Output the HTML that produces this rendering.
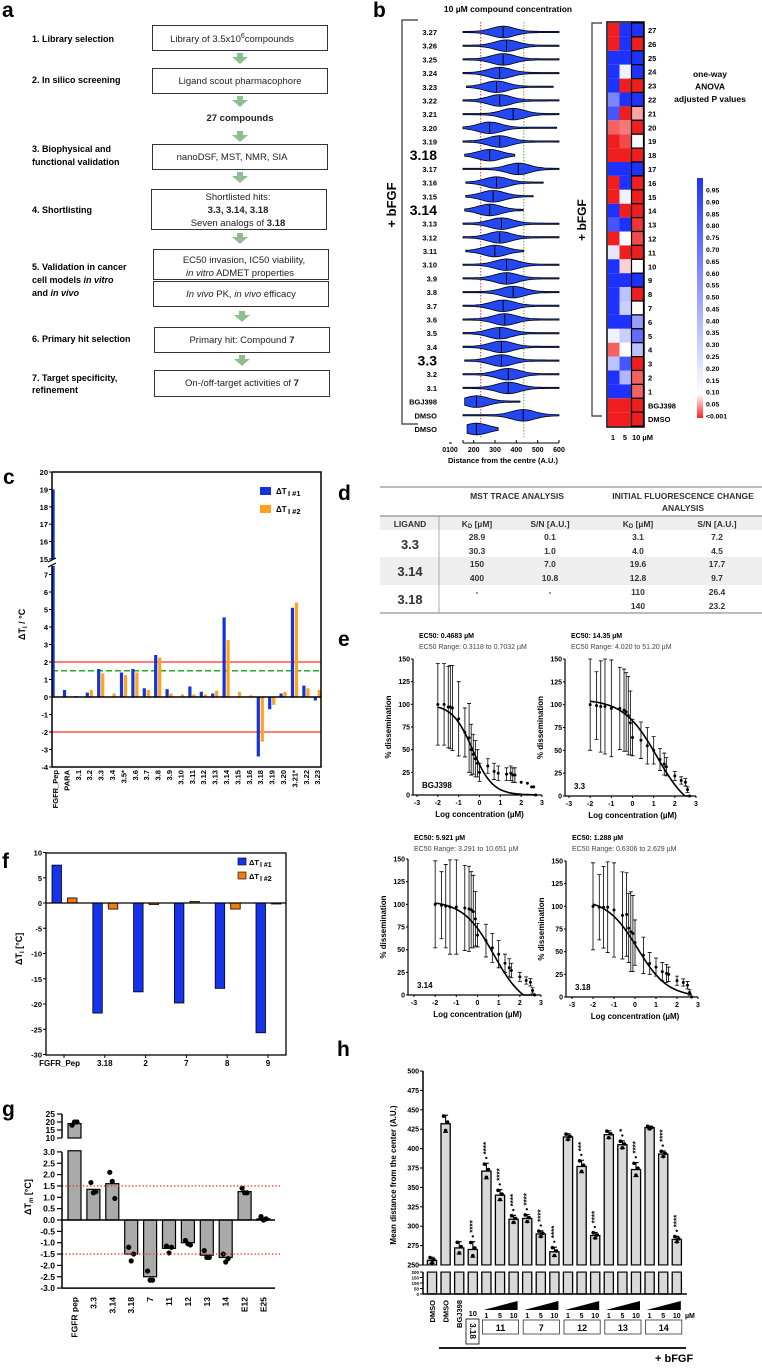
<!DOCTYPE html>
<html><head><meta charset="utf-8">
<style>
html,body{margin:0;padding:0;background:#fff;}
svg{display:block;font-family:"Liberation Sans",Arial,sans-serif;}
.b{font-weight:bold;}
</style></head>
<body>
<svg id="fig" xmlns="http://www.w3.org/2000/svg" width="762" height="1369" viewBox="0 0 762 1369">
<rect width="762" height="1369" fill="#fff"/>
<text x="2" y="17" font-size="21" class="b">a</text>
<text x="373" y="17" font-size="21" class="b">b</text>
<text x="3" y="484" font-size="21" class="b">c</text>
<text x="338" y="500" font-size="21" class="b">d</text>
<text x="338" y="646" font-size="21" class="b">e</text>
<text x="2" y="868" font-size="21" class="b">f</text>
<text x="2" y="1116" font-size="21" class="b">g</text>
<text x="337" y="1056" font-size="21" class="b">h</text>

<g font-size="9">
<g class="b">
<text x="32" y="42">1. Library selection</text>
<text x="32" y="83">2. In silico screening</text>
<text x="32" y="152">3. Biophysical and</text>
<text x="32" y="165">functional validation</text>
<text x="32" y="213">4. Shortlisting</text>
<text x="32" y="270">5. Validation in cancer</text>
<text x="32" y="283">cell models <tspan font-style="italic">in vitro</tspan></text>
<text x="32" y="296">and <tspan font-style="italic">in vivo</tspan></text>
<text x="32" y="342">6. Primary hit selection</text>
<text x="32" y="381">7. Target specificity,</text>
<text x="32" y="393">refinement</text>
</g>
<g fill="none" stroke="#333" stroke-width="1">
<rect x="152.5" y="25.5" width="175" height="25"/>
<rect x="152.5" y="68.5" width="175" height="25"/>
<rect x="152.5" y="144.5" width="175" height="25"/>
<rect x="151.5" y="189.5" width="175" height="40"/>
<rect x="153.5" y="249.5" width="175" height="30"/>
<rect x="153.5" y="281.5" width="175" height="25"/>
<rect x="154.5" y="327.5" width="175" height="25"/>
<rect x="154.5" y="370.5" width="175" height="26"/>
</g>
<g font-size="9.5" text-anchor="middle" fill="#222">
<text x="232" y="42">Library of 3.5x10<tspan dy="-4" font-size="7">6</tspan><tspan dy="4">compounds</tspan></text>
<text x="240" y="84">Ligand scout pharmacophore</text>
<text x="240" y="121" class="b">27 compounds</text>
<text x="232" y="160">nanoDSF, MST, NMR, SIA</text>
<text x="238" y="200">Shortlisted hits:</text>
<text x="238" y="213" class="b">3.3, 3.14, 3.18</text>
<text x="238" y="226">Seven analogs of <tspan class="b">3.18</tspan></text>
<text x="244" y="263">EC50 invasion, IC50 viability,</text>
<text x="240" y="276"><tspan font-style="italic">in vitro</tspan> ADMET properties</text>
<text x="241" y="297"><tspan font-style="italic">In vivo</tspan> PK, <tspan font-style="italic">in vivo</tspan> efficacy</text>
<text x="242" y="343">Primary hit: Compound <tspan class="b">7</tspan></text>
<text x="242" y="386">On-/off-target activities of <tspan class="b">7</tspan></text>
</g>
<g fill="#8fbf8f">
<path d="M237 53h6v4h5l-8 7l-8-7h5z"/>
<path d="M237 96h6v4h5l-8 7l-8-7h5z"/>
<path d="M237 131h6v4h5l-8 7l-8-7h5z"/>
<path d="M237 172h6v4h5l-8 7l-8-7h5z"/>
<path d="M237 233h6v4h5l-8 7l-8-7h5z"/>
<path d="M239 311h6v4h5l-8 7l-8-7h5z"/>
<path d="M239 355h6v4h5l-8 7l-8-7h5z"/>
</g>
</g>

<g font-size="8.5">
<rect x="380" y="516" width="382" height="14" fill="#eee"/>
<rect x="380" y="557" width="382" height="28" fill="#eee"/>
<line x1="380" y1="487" x2="762" y2="487" stroke="#777" stroke-width="1"/>
<line x1="380" y1="516" x2="762" y2="516" stroke="#777" stroke-width="1"/>
<line x1="380" y1="613" x2="762" y2="613" stroke="#777" stroke-width="1"/>
<line x1="439" y1="516" x2="439" y2="613" stroke="#999" stroke-width="0.8"/>
<g class="b" text-anchor="middle" fill="#333">
<text x="517" y="499">MST TRACE ANALYSIS</text>
<text x="683" y="499">INITIAL FLUORESCENCE CHANGE</text>
<text x="683" y="511">ANALYSIS</text>
<text x="410" y="527">LIGAND</text>
<text x="477" y="527">K<tspan font-size="6" dy="1">D</tspan><tspan dy="-1"> [µM]</tspan></text>
<text x="550" y="527">S/N [A.U.]</text>
<text x="638" y="527">K<tspan font-size="6" dy="1">D</tspan><tspan dy="-1"> [µM]</tspan></text>
<text x="717" y="527">S/N [A.U.]</text>
<text x="410" y="549" font-size="13">3.3</text>
<text x="410" y="576" font-size="13">3.14</text>
<text x="410" y="604" font-size="13">3.18</text>
<text x="477" y="540">28.9</text><text x="550" y="540">0.1</text><text x="638" y="540">3.1</text><text x="717" y="540">7.2</text>
<text x="477" y="554">30.3</text><text x="550" y="554">1.0</text><text x="638" y="554">4.0</text><text x="717" y="554">4.5</text>
<text x="477" y="567">150</text><text x="550" y="567">7.0</text><text x="638" y="567">19.6</text><text x="717" y="567">17.7</text>
<text x="477" y="581">400</text><text x="550" y="581">10.8</text><text x="638" y="581">12.8</text><text x="717" y="581">9.7</text>
<text x="477" y="595">-</text><text x="550" y="595">-</text><text x="638" y="595">110</text><text x="717" y="595">26.4</text>
<text x="638" y="609">140</text><text x="717" y="609">23.2</text>
</g>
</g>
</svg>
<script>
const NS="http://www.w3.org/2000/svg";
const S=document.getElementById('fig');
function mk(tag,attrs,parent){const e=document.createElementNS(NS,tag);for(const k in attrs)e.setAttribute(k,attrs[k]);(parent||S).appendChild(e);return e;}
function tx(str,x,y,size,extra,parent){const e=mk('text',Object.assign({x:x,y:y,'font-size':size},extra||{}),parent);e.textContent=str;return e;}

const bLabels=["3.27","3.26","3.25","3.24","3.23","3.22","3.21","3.20","3.19","3.18","3.17","3.16","3.15","3.14","3.13","3.12","3.11","3.10","3.9","3.8","3.7","3.6","3.5","3.4","3.3","3.2","3.1","BGJ398","DMSO","DMSO"];
const bMin=[150,150,150,150,166,150,150,150,150,158,150,163,163,158,150,150,163,150,150,150,150,150,150,150,158,150,150,158,150,169];
const bMax=[600,600,600,600,573,600,600,589,600,393,600,526,479,432,600,600,435,600,600,600,600,600,600,600,600,600,600,417,600,315];
const bCenter=[338,354,338,322,307,322,385,275,322,275,409,307,291,275,330,322,299,354,354,385,338,346,322,330,330,362,362,213,432,213];
const hmLabels=["27","26","25","24","23","22","21","20","19","18","17","16","15","14","13","12","11","10","9","8","7","6","5","4","3","2","1","BGJ398","DMSO"];
const hm1=[0,0,1,1,1,0.6,0.8,0.03,0,0,1,0,0,1,0.8,0,0.2,1,1,1,1,1,0.15,0.03,0.35,1,1,0,0];
const hm5=[1,1,1,0.15,0,1,0,0.04,0.02,0,1,1,0.15,0,1,0.1,0,0.08,1,0.35,0.3,1,0.3,0.1,0.8,0.4,1,0,0];
const hm10=[1,0,1,1,0,1,0.06,0,0.12,0,1,0,0,0,0.01,0.02,0,0.1,1,0,0.1,0.5,0.7,0.35,0,0.03,0.03,0,0];
const cbTicks=["0.95","0.90","0.85","0.80","0.75","0.70","0.65","0.60","0.55","0.50","0.45","0.40","0.35","0.30","0.25","0.20","0.15","0.10","0.05","<0.001"];

(function(){
 const g=mk('g',{});
 
 
 const xv=v=>463+(v-150)*96/450;
 const rowY=i=>32+i*(397/29);
 tx("10 µM compound concentration",508,12,8.5,{'text-anchor':'middle','class':'b'},g);
 const red=mk('line',{x1:xv(233),x2:xv(233),y1:22,y2:437,stroke:'#e33',"stroke-width":1,"stroke-dasharray":"1.5,1.5"},g);
 
 
 const grn=mk('line',{x1:xv(435),x2:xv(435),y1:22,y2:437,stroke:'#6a3',"stroke-width":1,"stroke-dasharray":"1.5,1.5"},g);
 
 
 bLabels.forEach((lab,i)=>{
  const y=rowY(i);
  const big=(lab==="3.18"||lab==="3.14"||lab==="3.3");
  const t=tx(lab,437,y+(big?5:3),big?14:7.5,{'text-anchor':'end','class':'b'},g);
  
  
  const l=mk('line',{x1:xv(bMin[i]),x2:xv(bMax[i]),y1:y,y2:y,stroke:'#000','stroke-width':1.2},g);
  
  
  let top=[],bot=[];
  for(let k=0;k<=40;k++){const v=bMin[i]+(bMax[i]-bMin[i])*k/40;const h=0.6+5.2*Math.exp(-Math.pow((v-bCenter[i])/75,2));top.push(xv(v).toFixed(1)+','+(y-h).toFixed(1));bot.unshift(xv(v).toFixed(1)+','+(y+h).toFixed(1));}
  const p=mk('polygon',{points:top.concat(bot).join(' '),fill:'#2347f0',stroke:'#000','stroke-width':0.8},g);
  
  
  const m=mk('line',{x1:xv(bCenter[i]),x2:xv(bCenter[i]),y1:y-5,y2:y+5,stroke:'#000','stroke-width':1},g);
  
  
 });
 mk('path',{d:'M418 20H402V424H418',fill:'none',stroke:'#333','stroke-width':1.2},g);
 tx("+ bFGF",396,205,13,{'class':'b','text-anchor':'middle',transform:'rotate(-90 396 205)'},g);
 const ax=mk('g',{},g);
 
 
 mk('line',{x1:449,x2:452,y1:443,y2:443,stroke:'#000'},ax);
 mk('line',{x1:463,x2:559,y1:443,y2:443,stroke:'#000'},ax);
 [150,200,300,400,500,600].forEach(v=>mk('line',{x1:xv(v),x2:xv(v),y1:440,y2:443,stroke:'#000'},ax));
 const ticks=["200","300","400","500","600"];const tv=[200,300,400,500,600];
 tx("0100",450,452,7,{'text-anchor':'middle','class':'b'},ax);
 ticks.forEach((s,k)=>tx(s,xv(tv[k]),452,7,{'text-anchor':'middle','class':'b'},ax));
 tx("Distance from the centre (A.U.)",503,463,7.5,{'text-anchor':'middle','class':'b'},ax);

 const hg=mk('g',{});
 
 
 function col(p){let r,gg,b;if(p>=0.1){const t=Math.min(1,(p-0.1)/0.85);r=255-225*t;gg=255-205*t;b=255;}else{const t=p/0.1;r=240+15*t;gg=30+225*t;b=30+225*t;}return `rgb(${r|0},${gg|0},${b|0})`;}
 const cols=[hm1,hm5,hm10];const cx=[608,619.5,631.5];const cw=[11.5,12,12];
 hmLabels.forEach((lab,i)=>{
  const y=23+i*13.9;
  cols.forEach((arr,c)=>{
   const r=mk('rect',{x:cx[c],y:y,width:cw[c],height:13.9,fill:col(arr[i]),stroke:c===2?'#000':'none','stroke-width':1.2},hg);
   
   
  });
  const t=tx(lab,648,y+10,7.5,{'class':'b'},hg);
  
  
 });
 mk('rect',{x:607,y:22,width:37,height:405,fill:'none',stroke:'#000','stroke-width':1.5},hg);
 ["1","5","10 µM"].forEach((s,k)=>tx(s,[613,625,632][k],440,7.5,{'class':'b','text-anchor':k<2?'middle':'start'},hg));
 mk('path',{d:'M602 23H592V416H602',fill:'none',stroke:'#333','stroke-width':1.2},hg);
 tx("+ bFGF",586,220,12,{'class':'b','text-anchor':'middle',transform:'rotate(-90 586 220)'},hg);
 ["one-way","ANOVA","adjusted P values"].forEach((s,k)=>tx(s,710,77+k*12.5,8.5,{'text-anchor':'middle','class':'b'},hg));
 const cb=mk('g',{},hg);
 
 
 const defs=mk('defs',{},cb);const lg=mk('linearGradient',{id:'cbg',x1:0,y1:0,x2:0,y2:1},defs);
 mk('stop',{offset:'0',"stop-color":'#1e32ff'},lg);mk('stop',{offset:'0.9',"stop-color":'#fff'},lg);mk('stop',{offset:'1',"stop-color":'#f22'},lg);
 mk('rect',{x:697,y:178,width:6,height:240,fill:'url(#cbg)'},cb);
 cbTicks.forEach((s,k)=>{const y=190+k*(226/19);tx(s,706,y+2.5,6.8,{'class':'b'},cb);});
})();

const cCats=["FGFR_Pep","PARA","3.1","3.2","3.3","3.4","3.5*","3.6","3.7","3.8","3.9","3.10","3.11","3.12","3.13","3.14","3.15","3.16","3.18","3.19","3.20","3.21*","3.22","3.23"];
const cRun1=[19,0.4,0.05,0.25,1.6,0,1.4,1.6,0.5,2.4,0.45,0,0.6,0.3,0.2,4.55,0,0,-3.4,-0.7,0.2,5.1,0.65,-0.2];
const cRun2=[0,0,0,0.4,1.35,0.2,1.25,1.4,0.4,2.25,0.2,0.15,0.15,0.15,0.35,3.25,0.3,0.1,-2.55,-0.45,0.3,5.4,0.5,0.4];
const cLowTicks=["-4","-3","-2","-1","0","1","2","3","4","5","6","7"];
const cUpTicks=["15","16","17","18","19","20"];
(function(){
 const g=mk('g',{});
 
 
 const X0=52,X1=321;
 const yl=v=>697-v*17.5; const yu=v=>472+(20-v)*17.4;
 const cx=i=>55+i*11.4;
 const l1=mk('line',{x1:X0,x2:X1,y1:yl(2),y2:yl(2),stroke:'#f32',"stroke-width":1.3},g);
 
 const l2=mk('line',{x1:X0,x2:X1,y1:yl(-2),y2:yl(-2),stroke:'#f32',"stroke-width":1.3},g);
 
 const l3=mk('line',{x1:X0,x2:X1,y1:yl(1.5),y2:yl(1.5),stroke:'#2a2',"stroke-width":1.5,"stroke-dasharray":"6,3"},g);
 
 cCats.forEach((c,i)=>{
  [[cRun1,'#1533d6',-3.5,'bar-run1'],[cRun2,'#ffa21f',0.5,'bar-run2']].forEach(([arr,color,off,nm])=>{
   const v=arr[i]; if(v===0) return;
   if(v>7.5){
    const a=mk('rect',{x:cx(i)+off,y:yl(7.5),width:3.2,height:yl(0)-yl(7.5),fill:color},g);
    
    const b=mk('rect',{x:cx(i)+off,y:yu(v),width:3.2,height:yu(15)-yu(v),fill:color},g);
    
   } else {
    const r=mk('rect',{x:cx(i)+off,y:Math.min(yl(0),yl(v)),width:3.2,height:Math.abs(yl(v)-yl(0)),fill:color},g);
    
   }
  });
  const t=tx(c,cx(i)+3,770,7.5,{'class':'b','text-anchor':'end',transform:`rotate(-90 ${cx(i)+3} 770)`},g);
  
 });
 mk('path',{d:`M${X0} 472H${X1}V767H${X0}V566`,fill:'none',stroke:'#000','stroke-width':1.5},g);
 mk('line',{x1:X0,x2:X0,y1:472,y2:559,stroke:'#000','stroke-width':1.5},g);
 mk('path',{d:'M48 562l8-4M48 567l8-4',stroke:'#000','stroke-width':1.2},g);
 mk('line',{x1:X0,x2:X1,y1:697,y2:697,stroke:'#000','stroke-width':1.5},g);
 cLowTicks.forEach(s=>{const y=yl(+s);mk('line',{x1:X0-3,x2:X0,y1:y,y2:y,stroke:'#000'},g);tx(s,X0-4,y+3,7.5,{'class':'b','text-anchor':'end'},g);});
 cUpTicks.forEach(s=>{const y=yu(+s);mk('line',{x1:X0-3,x2:X0,y1:y,y2:y,stroke:'#000'},g);tx(s,X0-4,y+3,7.5,{'class':'b','text-anchor':'end'},g);});
 const yt=tx("ΔT",25,640,9,{'class':'b',transform:'rotate(-90 25 640)'},g);
 const sub=mk('tspan',{'font-size':6,dy:2},yt);sub.textContent="I";const s2=mk('tspan',{dy:-2},yt);s2.textContent=" / °C";
 
 const lg=mk('g',{},g);
 mk('rect',{x:260,y:487,width:11,height:8,fill:'#1533d6'},lg);mk('rect',{x:260,y:505,width:11,height:8,fill:'#ffa21f'},lg);
 tx("ΔT",276,494,8,{'class':'b'},lg);tx("I #1",288,496,7.5,{'class':'b'},lg);
 tx("ΔT",276,512,8,{'class':'b'},lg);tx("I #2",288,514,7.5,{'class':'b'},lg);
})();

const eBgjX=[-2,-1.7,-1.5,-1.4,-1.3,-1,-0.7,-0.5,-0.4,-0.3,-0.2,-0.1,0,0.4,0.7,0.9,1.3,1.5,1.6,1.7,2,2.3,2.5,2.6,2.7];
const eBgjY=[100,100,97,97,96,84,69,63,50,45,40,35,25,32,26,24,23,24,22,22,14,13,9,9,0];
const eBgjE=[45,45,45,46,47,41,27,38,28,22,20,15,10,8,9,8,7,8,8,8,0,0,0,0,0];
const e33X=[-2,-1.7,-1.5,-1.3,-1,-0.6,-0.4,-0.3,-0.2,-0.1,0,0.4,0.7,1,1.3,1.5,1.6,2,2.3,2.5,2.6,2.7];
const e33Y=[100,99,98,98,96,96,94,92,88,80,64,61,55,50,40,35,32,22,17,15,7,0];
const e33E=[50,37,50,52,53,45,45,43,43,35,20,20,20,15,12,12,10,5,4,4,3,0];
const e314X=[-2,-1.7,-1.5,-1.3,-1,-0.6,-0.4,-0.3,-0.2,-0.1,0,0.4,0.7,1,1.3,1.5,1.6,2,2.3,2.5,2.6,2.7];
const e314Y=[100,99,98,97,97,96,95,94,92,84,66,60,52,45,35,30,27,20,16,14,5,0];
const e314E=[48,37,46,52,52,47,47,42,40,30,13,18,16,15,10,10,8,5,4,4,3,0];
const e318X=[-2,-1.7,-1.5,-1.3,-1,-0.6,-0.4,-0.3,-0.2,-0.1,0,0.4,0.7,1,1.3,1.5,1.6,2,2.3,2.5,2.6,2.7];
const e318Y=[100,99,99,99,96,90,91,76,72,70,60,46,37,33,28,26,25,18,16,13,5,0];
const e318E=[48,36,45,50,52,48,46,38,44,42,25,20,12,10,10,10,8,5,4,4,3,0];
const eXTicks=["-3","-2","-1","0","1","2","3"];
const eYTicks=["0","25","50","75","100","125","150"];
(function(){
 const plots=[
  {yx:413,x0:417,x1:542,y150:659,y0:795,X:eBgjX,Y:eBgjY,E:eBgjE,ec:-0.33,top:100,bot:0,h:0.9,lab:"BGJ398",t1:"EC50: 0.4683 µM",t2:"EC50 Range: 0.3118 to 0.7032 µM",ty:638},
  {yx:565,x0:569,x1:696,y150:659,y0:796,X:e33X,Y:e33Y,E:e33E,ec:1.16,top:106,bot:-20,h:0.55,lab:"3.3",t1:"EC50: 14.35 µM",t2:"EC50 Range: 4.020 to 51.20 µM",ty:638},
  {yx:408,x0:414,x1:541,y150:859,y0:995,X:e314X,Y:e314Y,E:e314E,ec:0.77,top:104,bot:-15,h:0.6,lab:"3.14",t1:"EC50: 5.921 µM",t2:"EC50 Range: 3.291 to 10.651 µM",ty:840},
  {yx:566,x0:572,x1:698,y150:861,y0:997,X:e318X,Y:e318Y,E:e318E,ec:0.11,top:108,bot:0,h:0.6,lab:"3.18",t1:"EC50: 1.288 µM",t2:"EC50 Range: 0.6306 to 2.629 µM",ty:840}
 ];
 plots.forEach(P=>{
  const g=mk('g',{});
  
  
  const xs=v=>P.x0+(v+3)*(P.x1-P.x0)/6; const ys=v=>P.y0-v*(P.y0-P.y150)/150;
  tx(P.t1,P.yx+6,P.ty,7,{'class':'b'},g);
  tx(P.t2,P.yx+6,P.ty+11,7,{fill:'#444'},g);
  mk('line',{x1:P.yx,x2:P.yx,y1:P.y150,y2:P.y0,stroke:'#000','stroke-width':1.2},g);
  mk('line',{x1:P.yx,x2:P.x1,y1:P.y0,y2:P.y0,stroke:'#000','stroke-width':1.2},g);
  eYTicks.forEach(s=>{const y=ys(+s);mk('line',{x1:P.yx-2,x2:P.yx,y1:y,y2:y,stroke:'#000'},g);tx(s,P.yx-3,y+2.5,7,{'class':'b','text-anchor':'end'},g);});
  eXTicks.forEach(s=>{const x=xs(+s);mk('line',{x1:x,x2:x,y1:P.y0,y2:P.y0+2,stroke:'#000'},g);tx(s,x,P.y0+10,7,{'class':'b','text-anchor':'middle'},g);});
  tx("Log concentration (µM)",(P.x0+P.x1)/2,P.y0+22,8,{'class':'b','text-anchor':'middle'},g);
  const yc=(P.y0+P.y150)/2;
  tx("% dissemination",P.yx-22,yc,8,{'class':'b','text-anchor':'middle',transform:`rotate(-90 ${P.yx-22} ${yc})`},g);
  tx(P.lab,P.yx+9,P.y0-7,8,{'class':'b'},g);
  P.X.forEach((x,i)=>{
   const px=xs(x),py=ys(P.Y[i]);
   if(P.E[i]>0){const eb=mk('path',{d:`M${px} ${ys(P.Y[i]+P.E[i])}V${ys(Math.max(0,P.Y[i]-P.E[i]))}M${px-2} ${ys(P.Y[i]+P.E[i])}h4M${px-2} ${ys(Math.max(0,P.Y[i]-P.E[i]))}h4`,stroke:'#000','stroke-width':0.8,fill:'none'},g);
    }
   const c=mk('circle',{cx:px,cy:py,r:1.5,fill:'#000'},g);
   
  });
  let d='';for(let k=0;k<=60;k++){const x=-2+4.7*k/60;const y=P.bot+(P.top-P.bot)/(1+Math.pow(10,(x-P.ec)*P.h));d+=(k?'L':'M')+xs(x).toFixed(1)+' '+ys(Math.max(0,y)).toFixed(1);}
  const cv=mk('path',{d:d,stroke:'#000','stroke-width':1.6,fill:'none'},g);
  
 });
})();

const fCats=["FGFR_Pep","3.18","2","7","8","9"];
const fRun1=[7.5,-21.8,-17.6,-19.8,-16.9,-25.7];
const fRun2=[1.0,-1.2,-0.3,0.3,-1.2,-0.2];
const fTicks=["10","5","0","-5","-10","-15","-20","-25","-30"];
(function(){
 const g=mk('g',{});
 
 
 const ys=v=>903-v*5.05; const gx=i=>52+i*40.8;
 fCats.forEach((c,i)=>{
  const b=mk('rect',{x:gx(i),y:Math.min(ys(0),ys(fRun1[i])),width:9.5,height:Math.abs(ys(fRun1[i])-ys(0)),fill:'#1533e8',stroke:'#000','stroke-width':0.8},g);
  
  const o=mk('rect',{x:gx(i)+15.5,y:Math.min(ys(0),ys(fRun2[i])),width:9.5,height:Math.max(1,Math.abs(ys(fRun2[i])-ys(0))),fill:'#f07d10',stroke:'#000','stroke-width':0.8},g);
  
  const cx=gx(i)+12;
  mk('line',{x1:cx,x2:cx,y1:1055,y2:1058,stroke:'#000'},g);
  const t=tx(c,i===0?cx+16:cx,1066,8,{'class':'b','text-anchor':i===0?'end':'middle'},g);
  
 });
 mk('rect',{x:46,y:853,width:240,height:202,fill:'none',stroke:'#000','stroke-width':1.3},g);
 mk('line',{x1:46,x2:286,y1:ys(0),y2:ys(0),stroke:'#000','stroke-width':1.3},g);
 fTicks.forEach(s=>{const y=ys(+s);mk('line',{x1:43,x2:46,y1:y,y2:y,stroke:'#000'},g);tx(s,42,y+3,7.5,{'class':'b','text-anchor':'end'},g);});
 const yt=tx("ΔT",22,965,9,{'class':'b',transform:'rotate(-90 22 965)'},g);
 const sb=mk('tspan',{'font-size':6,dy:2},yt);sb.textContent="I";const s2=mk('tspan',{dy:-2},yt);s2.textContent=" [°C]";
 
 const lg=mk('g',{},g);
 mk('rect',{x:238,y:858,width:8,height:7,fill:'#1533e8',stroke:'#000','stroke-width':0.6},lg);
 mk('rect',{x:238,y:872,width:8,height:7,fill:'#f07d10',stroke:'#000','stroke-width':0.6},lg);
 tx("ΔT",249,865,7.5,{'class':'b'},lg);tx("I #1",260,867,7,{'class':'b'},lg);
 tx("ΔT",249,879,7.5,{'class':'b'},lg);tx("I #2",260,881,7,{'class':'b'},lg);
})();

const gCats=["FGFR pep","3.3","3.14","3.18","7","11","12","13","14","E12","E25"];
const gMeans=[19,1.35,1.6,-1.5,-2.5,-1.25,-1.0,-1.55,-1.65,1.25,0.05];
const gRep1=[18,1.65,2.1,-1.2,-2.25,-1.15,-0.9,-1.35,-1.5,1.4,0.15];
const gRep2=[20,1.2,1.7,-1.8,-2.65,-1.45,-1.05,-1.65,-1.85,1.2,0.0];
const gRep3=[20,1.25,0.95,-1.5,-2.65,-1.2,-1.1,-1.65,-1.7,1.2,0.05];
const gLowTicks=["3.0","2.5","2.0","1.5","1.0","0.5","0.0","-0.5","-1.0","-1.5","-2.0","-2.5","-3.0"];
const gUpTicks=["25","20","15","10"];
(function(){
 const g=mk('g',{});
 
 
 const yl=v=>1220-v*22.7; const yu=v=>1138-(v-10)*1.6; const cx=i=>74.5+i*18.9;
 const yv=v=>v>3?yu(v):yl(v);
 gCats.forEach((c,i)=>{
  const v=gMeans[i];
  if(v>3){
   const a=mk('rect',{x:cx(i)-6.5,y:yl(3.05),width:13,height:yl(0)-yl(3.05),fill:'#aaa',stroke:'#000','stroke-width':1.2},g);
   
   const b=mk('rect',{x:cx(i)-6.5,y:yu(v),width:13,height:yu(10)-yu(v),fill:'#aaa',stroke:'#000','stroke-width':1.2},g);
   
  } else {
   const r=mk('rect',{x:cx(i)-6.5,y:Math.min(yl(0),yl(v)),width:13,height:Math.max(1,Math.abs(yl(v)-yl(0))),fill:'#aaa',stroke:'#000','stroke-width':1.2},g);
   
  }
  [gRep1[i],gRep2[i],gRep3[i]].forEach((p,k)=>{
   const d=mk('circle',{cx:cx(i)+(k-1)*2.5,cy:yv(p),r:2.6,fill:'#000'},g);
   
  });
  const t=tx(c,cx(i)+3,1297,8.5,{'class':'b','text-anchor':'end',transform:`rotate(-90 ${cx(i)+3} 1297)`},g);
  
 });
 [1.5,-1.5].forEach(v=>{const l=mk('line',{x1:62,x2:280,y1:yl(v),y2:yl(v),stroke:'#e32','stroke-width':1.3,'stroke-dasharray':'1.3,2.2'},g);
  });
 mk('line',{x1:62,x2:62,y1:yl(3),y2:yl(-3),stroke:'#000','stroke-width':1.5},g);
 mk('line',{x1:62,x2:62,y1:yu(25),y2:yu(10),stroke:'#000','stroke-width':1.5},g);
 mk('line',{x1:62,x2:275,y1:yl(0),y2:yl(0),stroke:'#000','stroke-width':1.5},g);
 mk('line',{x1:62,x2:275,y1:yl(-3),y2:yl(-3),stroke:'#000','stroke-width':1.5},g);
 gLowTicks.forEach(s=>{const y=yl(+s);mk('line',{x1:57,x2:62,y1:y,y2:y,stroke:'#000','stroke-width':1.2},g);tx(s,55,y+3,8.5,{'class':'b','text-anchor':'end'},g);});
 gUpTicks.forEach(s=>{const y=yu(+s);mk('line',{x1:57,x2:62,y1:y,y2:y,stroke:'#000','stroke-width':1.2},g);tx(s,55,y+3,8.5,{'class':'b','text-anchor':'end'},g);});
 const yt=tx("ΔT",31,1215,9,{'class':'b',transform:'rotate(-90 31 1215)'},g);
 const sb=mk('tspan',{'font-size':6,dy:2,'font-style':'italic'},yt);sb.textContent="m";const s2=mk('tspan',{dy:-2},yt);s2.textContent=" [°C]";
 
})();

const hCats=["DMSO","DMSO","BGJ398","3.18-10","11-1","11-5","11-10","7-1","7-5","7-10","12-1","12-5","12-10","13-1","13-5","13-10","14-1","14-5","14-10"];
const hMeans=[256,432,272,270,371,340,309,310,290,267,415,377,288,418,405,373,427,393,283];
const hErr=[4,11,8,10,10,7,5,5,4,6,4,8,4,5,5,9,2,4,4];
const hStars=["","","","****","****","****","****","****","****","****","","***","****","","*","****","","****","****"];
const hUpTicks=["250","275","300","325","350","375","400","425","450","475","500"];
const hLowTicks=["0","50","100","150","200"];
(function(){
 const g=mk('g',{});
 
 
 const yu=v=>1265-(v-250)*0.776; const ylo=v=>1294-v*0.11; const cx=i=>432+i*13.6;
 hMeans.forEach((v,i)=>{
  const x=cx(i)-4.6;
  const up=mk('rect',{x:x,y:yu(v),width:9.2,height:yu(250)-yu(v),fill:'#d9d9d9',stroke:'#000','stroke-width':1.3},g);
  
  const lo=mk('rect',{x:x,y:ylo(200),width:9.2,height:ylo(0)-ylo(200),fill:'#d9d9d9',stroke:'#000','stroke-width':1.3},g);
  
  const e=mk('path',{d:`M${cx(i)} ${yu(v+hErr[i])}V${yu(v)}M${cx(i)-2.5} ${yu(v+hErr[i])}h5M${cx(i)-2.5} ${yu(v-hErr[i])}h5`,stroke:'#000','stroke-width':1.1,fill:'none'},g);
  
  [[-2,v+hErr[i]*0.9],[0,v-hErr[i]*0.8],[2,v+hErr[i]*0.2]].forEach(([dx,p])=>{
   const c=mk('circle',{cx:cx(i)+dx,cy:yu(p),r:1.8,fill:'#000'},g);
   
  });
  if(hStars[i]){
   const y0=yu(v+hErr[i])-4;
   const s=tx('• '+hStars[i],cx(i)+2.5,y0,8,{'class':'b',transform:`rotate(-90 ${cx(i)+2.5} ${y0})`},g);
   
  }
 });
 mk('rect',{x:423,y:1265.5,width:270,height:6,fill:'#fff'},g);
 mk('line',{x1:423,x2:423,y1:1071,y2:1265,stroke:'#000','stroke-width':1.5},g);
 mk('line',{x1:423,x2:423,y1:1272,y2:1294,stroke:'#000','stroke-width':1.5},g);
 mk('line',{x1:423,x2:687,y1:1294,y2:1294,stroke:'#000','stroke-width':1.5},g);
 mk('line',{x1:418,x2:428,y1:1265,y2:1265,stroke:'#000','stroke-width':1},g);
 hUpTicks.forEach(s=>{const y=yu(+s);mk('line',{x1:420,x2:423,y1:y,y2:y,stroke:'#000'},g);tx(s,419,y+2.5,7,{'class':'b','text-anchor':'end'},g);});
 hLowTicks.forEach(s=>{const y=ylo(+s);mk('line',{x1:420,x2:423,y1:y,y2:y,stroke:'#000'},g);tx(s,419,y+2,4.5,{'class':'b','text-anchor':'end'},g);});
 tx("Mean distance from the center (A.U.)",396,1175,8,{'class':'b','text-anchor':'middle',transform:'rotate(-90 396 1175)'},g);
 const an=mk('g',{},g);
 ["DMSO","DMSO","BGJ398"].forEach((s,i)=>tx(s,cx(i)+3,1300,7.5,{'class':'b','text-anchor':'end',transform:`rotate(-90 ${cx(i)+3} 1300)`},an));
 tx("10",cx(3),1316,7.5,{'class':'b','text-anchor':'middle'},an);
 mk('rect',{x:466,y:1319,width:13,height:25,fill:'none',stroke:'#000','stroke-width':0.8},an);
 tx("3.18",cx(3)-3,1331,8,{'class':'b','text-anchor':'middle',transform:`rotate(90 ${cx(3)-3} 1331)`},an);
 ["11","7","12","13","14"].forEach((s,k)=>{
  const x0=cx(4+k*3)-3, x1=cx(6+k*3)+4;
  mk('path',{d:`M${x0} 1310L${x1} 1301V1310Z`,fill:'#000'},an);
  tx("1",cx(4+k*3),1318,7,{'class':'b','text-anchor':'middle'},an);
  tx("5",cx(5+k*3),1318,7,{'class':'b','text-anchor':'middle'},an);
  tx("10",cx(6+k*3),1318,7,{'class':'b','text-anchor':'middle'},an);
  mk('rect',{x:x0-1,y:1320,width:x1-x0+2,height:14,fill:'none',stroke:'#333','stroke-width':0.8},an);
  tx(s,(x0+x1)/2,1331,9,{'class':'b','text-anchor':'middle'},an);
 });
 tx("µM",685,1318,7,{'class':'b'},an);
 mk('line',{x1:439,x2:686,y1:1348,y2:1348,stroke:'#000','stroke-width':1.8},an);
 tx("+ bFGF",655,1362,11,{'class':'b'},an);
})();
</script>
</body></html>
